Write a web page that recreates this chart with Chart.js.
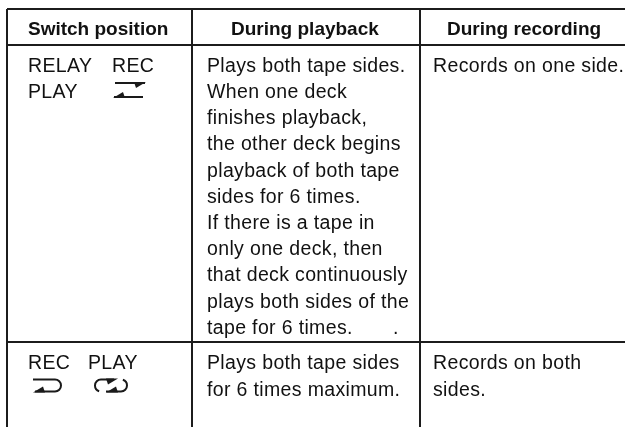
<!DOCTYPE html>
<html>
<head>
<meta charset="utf-8">
<script src="https://cdn.jsdelivr.net/npm/chart.js@4"></script>
<style>
  html, body { margin: 0; background: #fff; }
  canvas { display: block; }
</style>
</head>
<body>
<canvas id="table" width="625" height="427"></canvas>
<script>
const headers = ['Switch position', 'During playback', 'During recording'];
const row1Switch = [['RELAY', 'REC'], ['PLAY', '']];
const row1Playback = [
  'Plays both tape sides.',
  'When one deck',
  'finishes playback,',
  'the other deck begins',
  'playback of both tape',
  'sides for 6 times.',
  'If there is a tape in',
  'only one deck, then',
  'that deck continuously',
  'plays both sides of the',
  'tape for 6 times.'
];
const row1Recording = ['Records on one side.'];
const row2Switch = [['REC', 'PLAY']];
const row2Playback = ['Plays both tape sides', 'for 6 times maximum.'];
const row2Recording = ['Records on both', 'sides.'];

// table rules, in page pixels
const colRules = [7, 192, 420];
const rowRules = [9, 45, 342];

const headerX = [28, 231, 447];
const textX = [28, 207, 433];
const headerY = 30;
const row1Y = 66.5, row2Y = 364, lineH = 26.2;

function textPoints(lines, x, y0) {
  return lines.map((t, i) => ({ x: x, y: y0 + i * lineH, text: t }));
}

const headerPoints = headers.map((t, i) => ({ x: headerX[i], y: headerY, text: t }));
const bodyPoints = [
  ...textPoints(row1Switch.map(r => r[0]), textX[0], row1Y),
  ...textPoints(row1Switch.map(r => r[1]), 112, row1Y),
  ...textPoints(row1Playback, textX[1], row1Y),
  ...textPoints(['.'], 393, row1Y + 10 * lineH),
  ...textPoints(row1Recording, textX[2], row1Y),
  ...textPoints(row2Switch.map(r => r[0]), textX[0], row2Y),
  ...textPoints(row2Switch.map(r => r[1]), 88, row2Y),
  ...textPoints(row2Playback, textX[1], row2Y),
  ...textPoints(row2Recording, textX[2], row2Y)
];
const iconPoints = [
  { x: 113, y: 90, icon: 'relay' },
  { x: 33, y: 385.5, icon: 'rec' },
  { x: 94, y: 385.5, icon: 'play' }
];

// small arrow shapes of the switch, relative to their anchor
function wedge(ctx, tipX, y, dir, rise) {
  ctx.beginPath();
  ctx.moveTo(tipX, y);
  ctx.lineTo(tipX - dir * 12, y);
  ctx.lineTo(tipX - dir * 10, y + rise);
  ctx.closePath();
  ctx.fill();
}

function drawIcon(ctx, x, y, kind) {
  ctx.save();
  ctx.strokeStyle = '#1a1a1a';
  ctx.fillStyle = '#1a1a1a';
  ctx.lineWidth = 2;
  ctx.beginPath();
  if (kind === 'relay') {
    ctx.moveTo(x + 2, y - 7); ctx.lineTo(x + 32, y - 7);
    ctx.moveTo(x + 1, y + 7); ctx.lineTo(x + 30, y + 7);
    ctx.stroke();
    wedge(ctx, x + 33, y - 8, 1, 6);
    wedge(ctx, x, y + 8, -1, -6);
  } else if (kind === 'rec') {
    ctx.moveTo(x, y - 6); ctx.lineTo(x + 22, y - 6);
    ctx.arc(x + 22, y, 6, -Math.PI / 2, Math.PI / 2);
    ctx.lineTo(x + 2, y + 6);
    ctx.stroke();
    wedge(ctx, x, y + 7, -1, -6);
  } else {
    ctx.arc(x + 7, y, 6, -Math.PI / 2, Math.PI * 0.6, true);
    ctx.moveTo(x + 7, y - 6); ctx.lineTo(x + 20, y - 6);
    ctx.moveTo(x + 12, y + 6); ctx.lineTo(x + 27, y + 6);
    ctx.arc(x + 27, y, 6, Math.PI / 2, -Math.PI * 0.4, true);
    ctx.stroke();
    wedge(ctx, x + 24, y - 7, 1, 6);
    wedge(ctx, x + 12, y + 7, -1, -6);
  }
  ctx.restore();
}

const cellText = {
  id: 'cellText',
  afterDatasetsDraw(chart) {
    const ctx = chart.ctx;
    ctx.save();
    ctx.fillStyle = '#111';
    ctx.textBaseline = 'middle';
    ctx.textAlign = 'left';
    chart.data.datasets.forEach((ds, i) => {
      const meta = chart.getDatasetMeta(i);
      ctx.font = ds.textFont || '19.5px "Liberation Sans"';
      ctx.letterSpacing = ds.textSpacing || '0px';
      ds.data.forEach((p, j) => {
        const el = meta.data[j];
        if (p.icon) drawIcon(ctx, el.x, el.y, p.icon);
        else if (p.text) ctx.fillText(p.text, el.x, el.y);
      });
    });
    ctx.restore();
  }
};

new Chart(document.getElementById('table').getContext('2d'), {
  type: 'scatter',
  data: {
    datasets: [
      { label: 'Header', data: headerPoints, pointRadius: 0, textFont: 'bold 19px "Liberation Sans"' },
      { label: 'Body', data: bodyPoints, pointRadius: 0, textSpacing: '0.35px' },
      { label: 'Icons', data: iconPoints, pointRadius: 0 }
    ]
  },
  options: {
    responsive: false,
    animation: false,
    layout: { padding: { left: colRules[0], top: rowRules[0], right: 0, bottom: 0 } },
    plugins: { legend: { display: false }, tooltip: { enabled: false } },
    scales: {
      x: {
        type: 'linear',
        min: colRules[0],
        max: 625,
        afterBuildTicks: s => { s.ticks = colRules.map(v => ({ value: v })); },
        ticks: { display: false },
        border: { display: false },
        grid: { color: '#1c1c1c', lineWidth: 2, drawTicks: false }
      },
      y: {
        type: 'linear',
        reverse: true,
        min: rowRules[0],
        max: 427,
        afterBuildTicks: s => { s.ticks = rowRules.map(v => ({ value: v })); },
        ticks: { display: false },
        border: { display: false },
        grid: { color: '#1c1c1c', lineWidth: 2, drawTicks: false }
      }
    }
  },
  plugins: [cellText]
});
</script>
</body>
</html>
